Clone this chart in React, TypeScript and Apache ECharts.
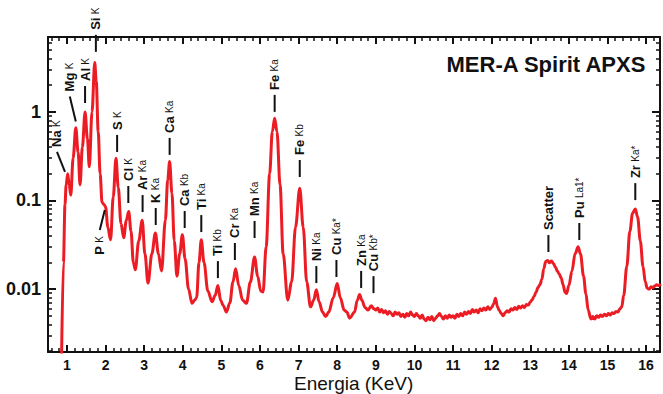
import React, { useEffect, useRef } from "react";
import * as echarts from "echarts";

// Spectrum (energy in keV, normalised intensity)
const energy = [
  0.86, 0.91, 0.95, 0.98, 1.02, 1.06, 1.10, 1.16, 1.23, 1.29, 1.34, 1.40, 1.47, 1.53, 1.58, 1.65, 1.72, 1.76, 1.81, 1.86,
  1.91, 1.96, 2.00, 2.06, 2.13, 2.20, 2.27, 2.33, 2.40, 2.47, 2.54, 2.60, 2.66, 2.72, 2.77, 2.86, 2.95, 3.02, 3.10, 3.20,
  3.29, 3.37, 3.45, 3.55, 3.61, 3.66, 3.72, 3.78, 3.85, 3.92, 3.99, 4.06, 4.15, 4.24, 4.31, 4.36, 4.42, 4.48, 4.55, 4.65,
  4.76, 4.84, 4.91, 4.98, 5.05, 5.13, 5.22, 5.30, 5.37, 5.45, 5.55, 5.65, 5.75, 5.86, 5.94, 6.02, 6.08, 6.16, 6.25, 6.32,
  6.38, 6.44, 6.52, 6.60, 6.72, 6.82, 6.92, 7.03, 7.12, 7.21, 7.31, 7.39, 7.46, 7.53, 7.62, 7.70, 7.78, 7.90, 8.00, 8.08,
  8.18, 8.25, 8.32, 8.45, 8.52, 8.58, 8.64, 8.72, 8.80, 8.88, 8.95,
  9.00, 9.05, 9.10, 9.15, 9.20, 9.25, 9.30, 9.35, 9.40, 9.45, 9.50, 9.55, 9.60, 9.65, 9.70, 9.75, 9.80, 9.85, 9.90, 9.95,
  10.00, 10.05, 10.10, 10.15, 10.20, 10.25, 10.30, 10.35, 10.40, 10.45, 10.50, 10.55, 10.60, 10.65, 10.70, 10.75, 10.80, 10.85, 10.90, 10.95,
  11.00, 11.05, 11.10, 11.15, 11.20, 11.25, 11.30, 11.35, 11.40, 11.45, 11.50, 11.55, 11.60, 11.65, 11.70, 11.75, 11.80, 11.85, 11.90, 11.95,
  12.00, 12.05, 12.10, 12.15, 12.20, 12.25, 12.30, 12.35, 12.40, 12.45, 12.50, 12.55, 12.60, 12.65, 12.70, 12.75, 12.80, 12.85, 12.90, 12.95,
  13.00, 13.05, 13.10, 13.15, 13.20, 13.25, 13.30, 13.35, 13.40, 13.45, 13.50, 13.55, 13.60, 13.65, 13.70, 13.75, 13.80, 13.85, 13.90, 13.94,
  14.00, 14.08, 14.16, 14.24, 14.30, 14.38, 14.44, 14.50, 14.57, 14.62, 14.67, 14.72, 14.77, 14.82, 14.87, 14.92, 14.97, 15.02, 15.07, 15.12,
  15.17, 15.22, 15.27, 15.32, 15.37, 15.42, 15.50, 15.58, 15.65, 15.72, 15.78, 15.85, 15.92, 15.98, 16.03, 16.08, 16.13, 16.18, 16.23, 16.28,
  16.33, 16.38,
];
const intensity = [
  0.0015, 0.02, 0.09, 0.15, 0.20, 0.15, 0.115, 0.30, 0.66, 0.35, 0.15, 0.40, 1.0, 0.50, 0.24, 1.0, 3.6, 2.2, 0.6, 0.2,
  0.095, 0.09, 0.085, 0.05, 0.036, 0.11, 0.30, 0.14, 0.055, 0.038, 0.06, 0.075, 0.045, 0.02, 0.0165, 0.035, 0.06, 0.025, 0.0117, 0.025,
  0.043, 0.025, 0.016, 0.06, 0.17, 0.275, 0.12, 0.035, 0.014, 0.025, 0.041, 0.022, 0.01, 0.0069, 0.0075, 0.008, 0.02, 0.036, 0.02, 0.0095,
  0.0072, 0.0085, 0.011, 0.0075, 0.0065, 0.0055, 0.007, 0.012, 0.017, 0.011, 0.0075, 0.0069, 0.012, 0.023, 0.014, 0.0095, 0.0093, 0.03, 0.2, 0.6,
  0.85, 0.6, 0.15, 0.025, 0.0075, 0.012, 0.05, 0.137, 0.05, 0.012, 0.0063, 0.0075, 0.0098, 0.0072, 0.0055, 0.0049, 0.0055, 0.008, 0.0116, 0.008,
  0.0058, 0.0055, 0.0047, 0.0055, 0.0075, 0.0087, 0.0075, 0.0062, 0.0058, 0.0065, 0.006,
  0.0058, 0.0061, 0.0055, 0.0059, 0.0054, 0.0057, 0.0052, 0.0056, 0.0053, 0.0050, 0.0055, 0.0052, 0.0054, 0.0049, 0.0052, 0.0048, 0.0053, 0.0050, 0.0055, 0.0051,
  0.0049, 0.0053, 0.0050, 0.0047, 0.0051, 0.0046, 0.0044, 0.0048, 0.0045, 0.0049, 0.0044, 0.0047, 0.0050, 0.0053, 0.0049, 0.0046, 0.0050, 0.0047, 0.0051, 0.0048,
  0.0050, 0.0047, 0.0052, 0.0049, 0.0053, 0.0050, 0.0055, 0.0052, 0.0056, 0.0053, 0.0059, 0.0055, 0.0058, 0.0054, 0.0060, 0.0057, 0.0061, 0.0058, 0.0063, 0.0059,
  0.0062, 0.0068, 0.0079, 0.0063, 0.0057, 0.0053, 0.0050, 0.0054, 0.0057, 0.0055, 0.0060, 0.0058, 0.0062, 0.0059, 0.0064, 0.0061, 0.0065, 0.0062, 0.0067, 0.0066,
  0.0071, 0.0076, 0.0083, 0.0092, 0.0104, 0.0112, 0.0128, 0.017, 0.0205, 0.021, 0.0198, 0.0207, 0.0195, 0.0178, 0.016, 0.0148, 0.0134, 0.0112, 0.0092, 0.0089,
  0.011, 0.016, 0.025, 0.030, 0.025, 0.014, 0.0089, 0.0058, 0.0046, 0.0049, 0.0046, 0.0050, 0.0048, 0.0051, 0.0049, 0.0052, 0.0050, 0.0053, 0.0051, 0.0054,
  0.0053, 0.0056, 0.0055, 0.0060, 0.0063, 0.0085, 0.018, 0.045, 0.072, 0.080, 0.065, 0.035, 0.018, 0.012, 0.0102, 0.0100, 0.0106, 0.0104, 0.0109, 0.0112,
  0.0110, 0.0114,
];

// Peak annotations
const labelEnergy = [0.95, 1.23, 1.47, 1.75, 1.98, 2.30, 2.59, 2.96, 3.30, 3.66, 4.05, 4.48, 4.91, 5.35, 5.86, 6.38, 7.03, 7.46, 7.98, 8.62, 8.94, 13.47, 14.27, 15.72];
const labelValue = [0.21, 0.78, 1.26, 4.76, 0.078, 0.353, 0.0937, 0.074, 0.0529, 0.327, 0.0489, 0.044, 0.0133, 0.0213, 0.0377, 1.0, 0.184, 0.0117, 0.0137, 0.0103, 0.009, 0.0262, 0.0358, 0.101];
const labelElement = ["Na", "Mg", "Al", "Si", "P", "S", "Cl", "Ar", "K", "Ca", "Ca", "Ti", "Ti", "Cr", "Mn", "Fe", "Fe", "Ni", "Cu", "Zn", "Cu", "Scatter", "Pu", "Zr"];
const labelLine = ["K", "K", "K", "K", "K", "K", "K", "Ka", "Ka", "Ka", "Kb", "Ka", "Kb", "Ka", "Ka", "Ka", "Kb", "Ka", "Ka*", "Ka", "Kb*", "", "La1*", "Ka*"];

// Axis ticks
const xTicks = [1, 2, 3, 4, 5, 6, 7, 8, 9, 10, 11, 12, 13, 14, 15, 16];
const yTicks = [0.01, 0.1, 1];
const yTickLabels = ["0.01", "0.1", "1"];

const title = "MER-A Spirit APXS";
const xName = "Energia (KeV)";

const FONT = "'Liberation Sans', Arial, sans-serif";
const INK = "#111";

// styling: leader line offsets (px) for slanted leaders
const leaderOffset: Record<string, [number, number]> = {
  "0": [-8, -20],
  "1": [-6, -25],
  "4": [-5, 20],
};

export default function App() {
  const ref = useRef<HTMLDivElement>(null);
  useEffect(() => {
    if (!ref.current) return;
    const chart = echarts.init(ref.current, null, { renderer: "svg" });
    const xMin = 0.51, xMax = 16.36, yMin = 0.00195, yMax = 7.0;
    const xMinor: number[] = [];
    for (let i = 3; i <= 81; i++) {
      const v = Math.round(i * 2) / 10;
      if (i % 5 !== 0) xMinor.push(v);
    }
    const yMinor: number[] = [];
    [0.001, 0.01, 0.1, 1].forEach((d) => {
      for (let k = 2; k <= 9; k++) yMinor.push(+(d * k).toPrecision(3));
    });
    const axisLine = { show: true, lineStyle: { color: INK, width: 2 } };
    const xAxisBase = (pos: string, major: boolean, labels: boolean) => ({
      type: "value",
      position: pos,
      min: xMin,
      max: xMax,
      axisLine: major ? axisLine : { show: false },
      splitLine: { show: false },
      axisTick: {
        show: true,
        inside: true,
        length: major ? 7 : 4,
        customValues: major ? xTicks : xMinor,
        lineStyle: { color: INK, width: major ? 2 : 1.5 },
      },
      axisLabel: labels
        ? { show: true, customValues: xTicks, margin: 6, color: INK, fontFamily: FONT, fontWeight: "bold", fontSize: 14 }
        : { show: false },
    });
    const yAxisBase = (pos: string, major: boolean, labels: boolean) => ({
      type: "log",
      logBase: 10,
      position: pos,
      min: yMin,
      max: yMax,
      axisLine: major ? axisLine : { show: false },
      splitLine: { show: false },
      axisTick: {
        show: true,
        inside: true,
        length: major ? 8 : 4,
        customValues: major ? yTicks : yMinor,
        lineStyle: { color: INK, width: major ? 2 : 1.5 },
      },
      axisLabel: labels
        ? {
            show: true,
            customValues: yTicks,
            margin: 7,
            color: INK,
            fontFamily: FONT,
            fontWeight: "bold",
            fontSize: 18,
            formatter: (v: number) => {
              let best = 0;
              yTicks.forEach((t, i) => {
                if (Math.abs(Math.log10(t) - Math.log10(v)) < Math.abs(Math.log10(yTicks[best]) - Math.log10(v))) best = i;
              });
              return yTickLabels[best];
            },
          }
        : { show: false },
    });

    const option: any = {
      animation: false,
      backgroundColor: "#fff",
      grid: { left: 48, right: 3, top: 37, bottom: 42, containLabel: false, outerBoundsMode: "none" },
      xAxis: [
        xAxisBase("bottom", true, true),
        xAxisBase("bottom", false, false),
        xAxisBase("top", true, false),
        xAxisBase("top", false, false),
      ],
      yAxis: [
        yAxisBase("left", true, true),
        yAxisBase("left", false, false),
        yAxisBase("right", true, false),
        yAxisBase("right", false, false),
      ],
      graphic: [
        {
          type: "text",
          right: 16,
          top: 53,
          style: { text: title, font: `bold 22px ${FONT}`, fill: INK },
        },
        {
          type: "text",
          left: 294,
          top: 374,
          style: { text: xName, font: `19px ${FONT}`, fill: INK },
        },
      ],
      series: [
        {
          type: "line",
          xAxisIndex: 0,
          yAxisIndex: 0,
          data: energy.map((e, i) => [e, intensity[i]]),
          showSymbol: false,
          smooth: 0.35,
          smoothMonotone: "x",
          lineStyle: { color: "#ec1c24", width: 3 },
          clip: true,
          z: 3,
        },
        {
          type: "custom",
          xAxisIndex: 0,
          yAxisIndex: 0,
          clip: false,
          z: 4,
          data: labelEnergy.map((e, i) => [e, labelValue[i], i]),
          encode: { x: 0, y: 1 },
          renderItem: (params: any, api: any) => {
            const idx = api.value(2);
            const p = api.coord([api.value(0), api.value(1)]);
            const off = leaderOffset[String(idx)] || [0, -17];
            const ex = p[0] + off[0];
            const ey = p[1] + off[1];
            const below = off[1] > 0;
            const sub = labelLine[idx];
            const txt = sub ? `{e|${labelElement[idx]}} {s|${sub}}` : `{e|${labelElement[idx]}}`;
            return {
              type: "group",
              children: [
                {
                  type: "line",
                  shape: { x1: p[0], y1: p[1], x2: ex, y2: ey },
                  style: { stroke: INK, lineWidth: 2 },
                },
                {
                  type: "text",
                  x: ex,
                  y: below ? ey + 6 : ey - 5,
                  rotation: Math.PI / 2,
                  style: {
                    text: txt,
                    align: below ? "right" : "left",
                    verticalAlign: "middle",
                    fill: INK,
                    rich: {
                      e: { fontFamily: FONT, fontWeight: "bold", fontSize: 13, fill: INK },
                      s: { fontFamily: FONT, fontSize: 10, fill: INK },
                    },
                  },
                },
              ],
            };
          },
        },
      ],
    };
    chart.setOption(option);
    return () => chart.dispose();
  }, []);
  return (
    <div
      ref={ref}
      style={{ position: "absolute", left: 0, top: 0, width: 663, height: 394, background: "#fff" }}
    />
  );
}
